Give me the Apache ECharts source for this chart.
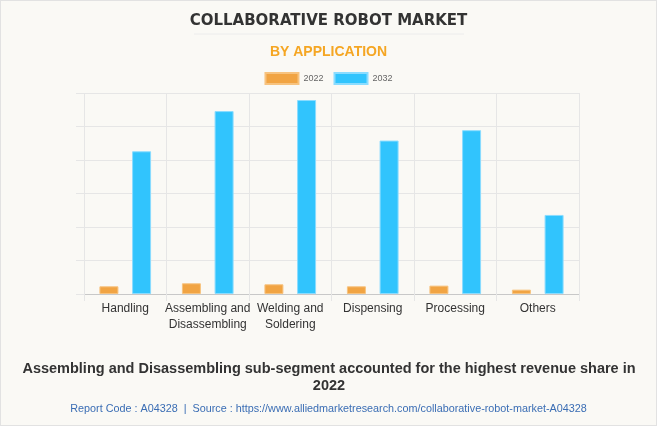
<!DOCTYPE html>
<html>
<head>
<meta charset="utf-8">
<script src="https://cdn.jsdelivr.net/npm/echarts@6/dist/echarts.min.js"></script>
<style>
html,body{margin:0;padding:0;background:#faf9f5;}
#c{width:657px;height:426px;box-sizing:border-box;border:1px solid #e2e2e2;}
</style>
</head>
<body>
<div id="c"></div>
<script>
const categories = ["Handling", "Assembling and\nDisassembling", "Welding and\nSoldering", "Dispensing", "Processing", "Others"];
const values2022 = [0.23, 0.32, 0.29, 0.23, 0.25, 0.13];
const values2032 = [4.26, 5.46, 5.79, 4.58, 4.89, 2.36];
const seriesNames = ["2022", "2032"];

const chart = echarts.init(document.getElementById('c'), null, {renderer: 'canvas'});
chart.setOption({
  backgroundColor: '#faf9f5',
  animation: false,
  title: [
    {text: 'COLLABORATIVE ROBOT MARKET', left: 'center', top: 8,
     textStyle: {fontFamily: 'DejaVu Sans', fontWeight: 'bold', fontSize: 15, color: '#333'}},
    {text: 'BY APPLICATION', left: 'center', top: 39,
     textStyle: {fontFamily: 'Liberation Sans', fontWeight: 'bold', fontSize: 14, color: '#f5a623'}},
    {text: 'Report Code : A04328  |  Source : https://www.alliedmarketresearch.com/collaborative-robot-market-A04328', left: 'center', top: 398,
     textStyle: {fontFamily: 'Liberation Sans', fontWeight: 'normal', fontSize: 10.8, color: '#3a6db4'}}
  ],
  graphic: [
    {type: 'line', shape: {x1: 193, y1: 33, x2: 463, y2: 33}, style: {stroke: '#ececec', lineWidth: 1}},
    {type: 'text', x: 328, y: 376,
     style: {text: 'Assembling and Disassembling sub-segment accounted for the highest revenue share in\n2022',
       font: 'bold 14.5px "Liberation Sans"', fill: '#333', align: 'center', verticalAlign: 'middle', lineHeight: 17}}
  ],
  legend: {
    top: 66, left: 'center', itemWidth: 33, itemHeight: 11, itemGap: 10, icon: 'rect',
    textStyle: {fontFamily: 'Liberation Sans', fontSize: 9, color: '#666'},
    data: seriesNames
  },
  grid: {left: 83, right: 77, top: 92, bottom: 131, containLabel: false},
  xAxis: {
    type: 'category', data: categories,
    axisLine: {lineStyle: {color: '#c8c8c8'}},
    axisTick: {show: true, length: 7, lineStyle: {color: '#e6e6e6'}},
    splitLine: {show: true, lineStyle: {color: '#e6e6e6'}},
    axisLabel: {fontFamily: 'Liberation Sans', fontSize: 12, color: '#333', lineHeight: 16, margin: 7, interval: 0}
  },
  yAxis: {
    type: 'value', min: 0, max: 6, interval: 1,
    axisLabel: {show: false},
    axisLine: {show: false},
    axisTick: {show: true, length: 8, lineStyle: {color: '#e6e6e6'}},
    splitLine: {lineStyle: {color: '#e6e6e6'}}
  },
  series: [
    {name: seriesNames[0], type: 'bar', data: values2022, barWidth: 19, barGap: '72%',
     itemStyle: {color: '#f1a443', borderColor: '#f7c37f', borderWidth: 1}},
    {name: seriesNames[1], type: 'bar', data: values2032, barWidth: 19,
     itemStyle: {color: '#31c4fd', borderColor: '#8adcff', borderWidth: 1}}
  ]
});
</script>
</body>
</html>
